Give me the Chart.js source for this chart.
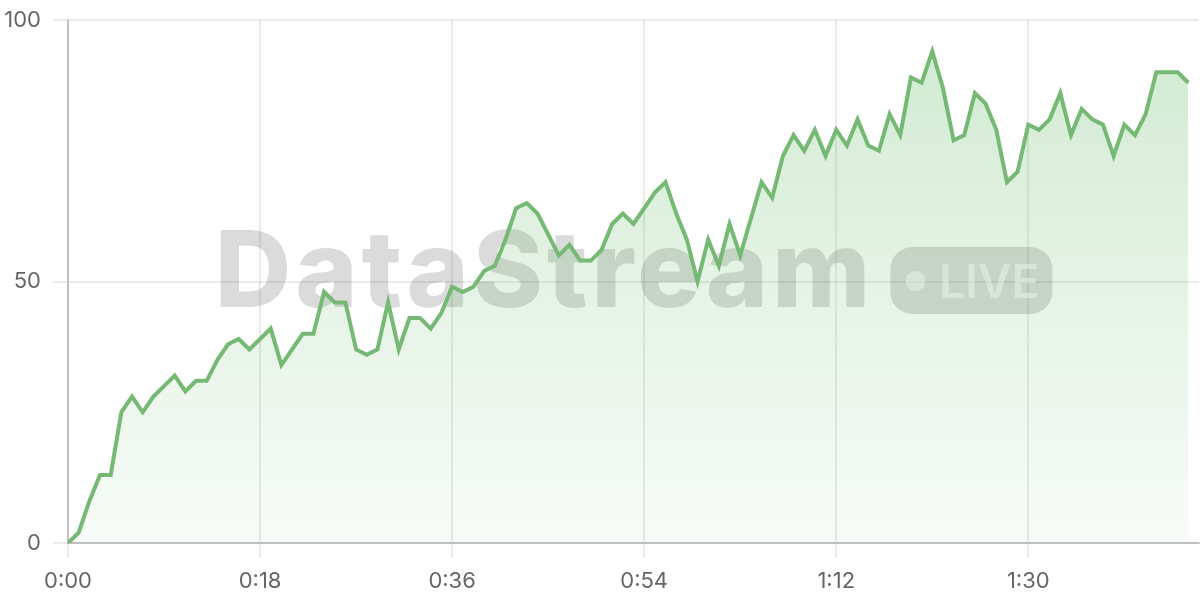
<!DOCTYPE html>
<html>
<head>
<meta charset="utf-8">
<script src="https://cdn.jsdelivr.net/npm/chart.js@4"></script>
<style>
  html, body { margin: 0; padding: 0; background: #fff; }
  #chart { display: block; }
</style>
</head>
<body>
<canvas id="chart" width="1200" height="600"></canvas>
<script>
// seconds since start
var seconds = [
  0, 1, 2, 3, 4, 5, 6, 7, 8, 9, 10, 11, 12, 13, 14, 15, 16, 17, 18, 19,
  20, 21, 22, 23, 24, 25, 26, 27, 28, 29, 30, 31, 32, 33, 34, 35, 36, 37, 38, 39,
  40, 41, 42, 43, 44, 45, 46, 47, 48, 49, 50, 51, 52, 53, 54, 55, 56, 57, 58, 59,
  60, 61, 62, 63, 64, 65, 66, 67, 68, 69, 70, 71, 72, 73, 74, 75, 76, 77, 78, 79,
  80, 81, 82, 83, 84, 85, 86, 87, 88, 89, 90, 91, 92, 93, 94, 95, 96, 97, 98, 99,
  100, 101, 102, 103, 104, 105
];
var values = [
  0, 2, 8, 13, 13, 25, 28, 25, 28, 30, 32, 29, 31, 31, 35, 38, 39, 37, 39, 41,
  34, 37, 40, 40, 48, 46, 46, 37, 36, 37, 46, 37, 43, 43, 41, 44, 49, 48, 49, 52,
  53, 58, 64, 65, 63, 59, 55, 57, 54, 54, 56, 61, 63, 61, 64, 67, 69, 63, 58, 50,
  58, 53, 61, 55, 62, 69, 66, 74, 78, 75, 79, 74, 79, 76, 81, 76, 75, 82, 78, 89,
  88, 94, 87, 77, 78, 86, 84, 79, 69, 71, 80, 79, 81, 86, 78, 83, 81, 80, 74, 80,
  78, 82, 90, 90, 90, 88
];
var yTicks = [0, 50, 100];
var watermark = "DataStream";
var badge = "LIVE";

var green = '#76b974';

function fmtTime(v) {
  var m = Math.floor(v / 60);
  var s = v % 60;
  return m + ':' + (s < 10 ? '0' + s : s);
}

var watermarkPlugin = {
  id: 'watermark',
  beforeDatasetsDraw: function(chart) {
    var ctx = chart.ctx;
    var area = chart.chartArea;
    ctx.save();
    ctx.font = '800 106px Inter';
    ctx.letterSpacing = '4px';
    var tw = ctx.measureText(watermark).width;
    var gap = 16, pw = 162, ph = 67, r = 22;
    var total = tw + gap + pw;
    var cx = (area.left + area.right) / 2;
    var x0 = cx - total / 2;
    var base = 307;
    ctx.fillStyle = 'rgba(0,0,0,0.14)';
    ctx.textBaseline = 'alphabetic';
    ctx.fillText(watermark, x0, base);
    ctx.letterSpacing = '0px';

    // pill
    var px = x0 + tw + gap, py = 247;
    ctx.beginPath();
    ctx.roundRect(px, py, pw, ph, r);
    ctx.fill();

    ctx.fillStyle = 'rgba(255,255,255,0.55)';
    ctx.beginPath();
    ctx.arc(px + 25, py + 34, 10, 0, Math.PI * 2);
    ctx.fill();
    ctx.font = '600 46px Inter';
    ctx.fillText(badge, px + 49, 298);
    ctx.restore();
  }
};

var ctx = document.getElementById('chart').getContext('2d');
var chart = new Chart(ctx, {
  type: 'line',
  data: {
    datasets: [{
      data: seconds.map(function(s, i) { return {x: s, y: values[i]}; }),
      borderColor: green,
      borderWidth: 4,
      pointRadius: 0,
      tension: 0,
      fill: 'origin',
      backgroundColor: function(c) {
        var a = c.chart.chartArea;
        if (!a) return 'rgba(76,175,80,0.15)';
        var g = c.chart.ctx.createLinearGradient(0, a.top, 0, a.bottom);
        g.addColorStop(0, 'rgba(76,175,80,0.26)');
        g.addColorStop(1, 'rgba(76,175,80,0.04)');
        return g;
      }
    }]
  },
  options: {
    responsive: false,
    animation: false,
    devicePixelRatio: 1,
    layout: { padding: { top: 20, right: 1, left: 0, bottom: 0 } },
    plugins: {
      legend: { display: false },
      tooltip: { enabled: false }
    },
    scales: {
      x: {
        type: 'linear',
        min: 0,
        max: 106,
        afterFit: function(s) { s.height = 57; },
        ticks: {
          stepSize: 18,
          includeBounds: false,
          padding: 10,
          color: '#666',
          font: { family: 'Inter', size: 22 },
          maxRotation: 0,
          callback: function(v) { return fmtTime(v); }
        },
        grid: { color: 'rgba(0,0,0,0.08)', lineWidth: 2, tickLength: 15 },
        border: { color: 'rgba(0,0,0,0.18)', width: 2 }
      },
      y: {
        min: 0,
        max: 100,
        afterFit: function(s) {
          s.width = 68;
          s.paddingTop = 0;
          s.paddingBottom = 0;
        },
        afterBuildTicks: function(s) {
          s.ticks = yTicks.map(function(v) { return {value: v}; });
        },
        ticks: {
          padding: 12,
          color: '#666',
          font: { family: 'Inter', size: 22 }
        },
        grid: { color: 'rgba(0,0,0,0.08)', lineWidth: 2, tickLength: 15 },
        border: { color: 'rgba(0,0,0,0.18)', width: 2 }
      }
    }
  },
  plugins: [watermarkPlugin]
});
</script>
</body>
</html>
